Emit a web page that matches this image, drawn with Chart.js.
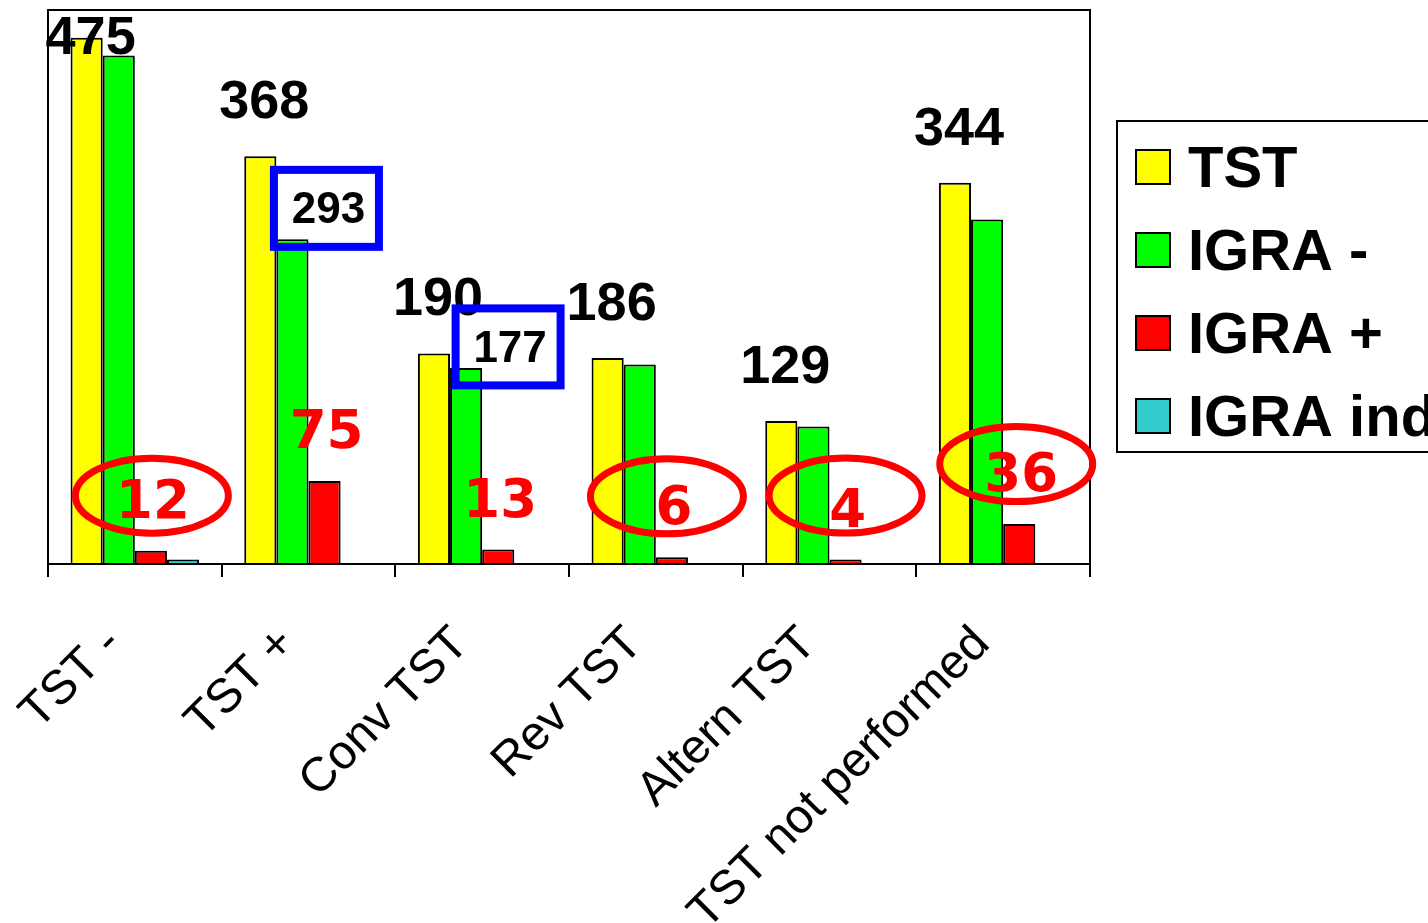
<!DOCTYPE html>
<html>
<head>
<meta charset="utf-8">
<style>
  html, body { margin: 0; padding: 0; background: #ffffff; overflow: hidden; }
  #wrap { width: 1428px; height: 923px; position: relative; }
</style>
<script src="https://cdn.jsdelivr.net/npm/chart.js@4.4.1/dist/chart.umd.min.js"></script>
</head>
<body>
<div id="wrap"><canvas id="chart" width="1428" height="923"></canvas></div>
<script>
// Categories of the tuberculin skin test (TST) history
const categories = ['TST -', 'TST +', 'Conv TST', 'Rev TST', 'Altern TST', 'TST not performed'];

// Counts per series
const tstValues     = [475, 368, 190, 186, 129, 344];
const igraNegValues = [459, 293, 177, 180, 124, 311];
const igraPosValues = [12, 75, 13, 6, 4, 36];
const igraIndValues = [4, 0, 0, 0, 0, 0];

const seriesNames  = ['TST', 'IGRA -', 'IGRA +', 'IGRA ind'];
const seriesColors = ['#FFFF00', '#00FF00', '#FF0000', '#33CCCC'];

// Value axis range
const yMin = 0;
const yMax = 500;

// Call-outs: IGRA+ counts ringed in red, IGRA- counts boxed in blue
const ringedGroups = [
  { group: 0, dx: -1, dy: -3 },
  { group: 3, dx: -7, dy: -9 },
  { group: 4, dx: -2, dy: -12 },
  { group: 5, dx: -5, dy: -8 }
];
const boxedGroups = [
  { group: 1, dx: 34, dy: -31 },
  { group: 2, dx: 42, dy: -21 }
];

const SANS = "'Liberation Sans', Arial, sans-serif";
const VERD = "'DejaVu Sans', Verdana, sans-serif";

const allSeries = [tstValues, igraNegValues, igraPosValues, igraIndValues];

const annotations = {
  id: 'annotations',
  afterDatasetsDraw(chart) {
    const ctx = chart.ctx;
    const area = chart.chartArea;
    const tstBars = chart.getDatasetMeta(0).data;
    const negBars = chart.getDatasetMeta(1).data;
    const posBars = chart.getDatasetMeta(2).data;

    ctx.save();

    // plot frame
    ctx.strokeStyle = '#000';
    ctx.lineWidth = 2;
    ctx.strokeRect(area.left, area.top, area.right - area.left, area.bottom - area.top);

    // TST totals above the yellow bars
    ctx.font = 'bold 54px ' + SANS;
    ctx.fillStyle = '#000';
    ctx.textAlign = 'center';
    ctx.textBaseline = 'alphabetic';
    tstBars.forEach((bar, i) => {
      const cy = Math.max(bar.y - 57, area.top + 25);
      ctx.fillText(String(tstValues[i]), bar.x + 4, cy + 19);
    });

    // IGRA+ counts above the red bars
    ctx.font = 'bold 53px ' + VERD;
    ctx.fillStyle = '#FF0000';
    const posCenters = posBars.map((bar) => ({ x: bar.x + 2, y: bar.y - 52 }));
    posBars.forEach((bar, i) => {
      ctx.fillText(String(igraPosValues[i]), posCenters[i].x, posCenters[i].y + 19);
    });

    // red rings
    ctx.strokeStyle = '#FF0000';
    ctx.lineWidth = 7;
    ringedGroups.forEach((r) => {
      const c = posCenters[r.group];
      ctx.beginPath();
      ctx.ellipse(c.x + r.dx, c.y + r.dy, 76.5, 37.5, 0, 0, Math.PI * 2);
      ctx.stroke();
    });

    // blue boxes with the IGRA- counts
    boxedGroups.forEach((b) => {
      const bar = negBars[b.group];
      const cx = bar.x + b.dx;
      const cy = bar.y + b.dy;
      ctx.strokeStyle = '#0000FF';
      ctx.lineWidth = 8;
      ctx.strokeRect(cx - 52.5, cy - 38.5, 105, 77);
      ctx.font = 'bold 44px ' + SANS;
      ctx.fillStyle = '#000';
      ctx.fillText(String(igraNegValues[b.group]), cx + 2, cy + 15);
    });

    ctx.restore();
  },
  afterDraw(chart) {
    // boxed legend on the right
    const ctx = chart.ctx;
    const ds = chart.data.datasets;
    ctx.save();
    ctx.fillStyle = '#fff';
    ctx.fillRect(1117, 121, 400, 331);
    ctx.strokeStyle = '#000';
    ctx.lineWidth = 2;
    ctx.strokeRect(1117, 121, 400, 331);
    ctx.font = 'bold 58px ' + SANS;
    ctx.textAlign = 'left';
    ctx.textBaseline = 'alphabetic';
    ds.forEach((d, i) => {
      const cy = 167 + i * 83;
      ctx.fillStyle = d.backgroundColor;
      ctx.fillRect(1136, cy - 17, 34, 34);
      ctx.strokeStyle = '#000';
      ctx.lineWidth = 2;
      ctx.strokeRect(1136, cy - 17, 34, 34);
      ctx.fillStyle = '#000';
      ctx.fillText(d.label, 1188, cy + 20);
    });
    ctx.restore();
  }
};

new Chart(document.getElementById('chart'), {
  type: 'bar',
  data: {
    labels: categories,
    datasets: allSeries.map((vals, i) => ({
      label: seriesNames[i],
      data: vals,
      backgroundColor: seriesColors[i],
      borderColor: '#000',
      borderWidth: 2,
      borderSkipped: 'bottom',
      categoryPercentage: 0.74,
      barPercentage: 1.0
    }))
  },
  options: {
    responsive: false,
    devicePixelRatio: 1,
    animation: false,
    layout: { padding: { left: 48, right: 338, top: 10, bottom: 0 } },
    plugins: {
      legend: { display: false },
      tooltip: { enabled: false }
    },
    scales: {
      x: {
        offset: true,
        grid: {
          offset: true,
          drawOnChartArea: false,
          drawTicks: true,
          tickLength: 13,
          color: '#000',
          lineWidth: 2
        },
        border: { display: true, color: '#000', width: 2 },
        ticks: {
          color: '#000',
          font: { family: SANS, size: 48 },
          minRotation: 45,
          maxRotation: 45,
          autoSkip: false,
          padding: 39,
          labelOffset: -21
        },
        afterFit(scale) {
          scale.height = 359;
          scale.paddingLeft = 0;
          scale.paddingRight = 0;
        }
      },
      y: {
        display: false,
        min: yMin,
        max: yMax
      }
    }
  },
  plugins: [annotations]
});
</script>
</body>
</html>
